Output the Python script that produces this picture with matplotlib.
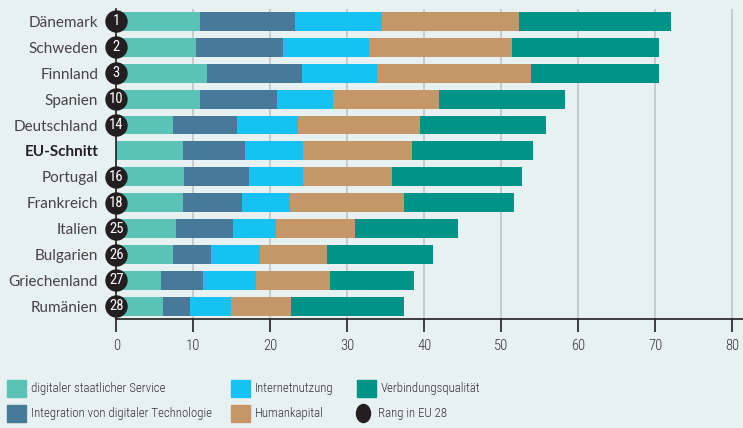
import matplotlib.pyplot as plt
import numpy as np
from matplotlib.patches import Rectangle, Ellipse

# Laender und Rang in EU 28 (EU-Schnitt ohne Rang)
laender = ['Dänemark', 'Schweden', 'Finnland', 'Spanien', 'Deutschland', 'EU-Schnitt',
           'Portugal', 'Frankreich', 'Italien', 'Bulgarien', 'Griechenland', 'Rumänien']
rang = [1, 2, 3, 10, 14, None, 16, 18, 25, 26, 27, 28]

# Teilwerte je Dimension
staatlicher_service = [10.9, 10.4, 11.8, 10.9, 7.4, 8.7, 8.8, 8.7, 7.8, 7.4, 5.8, 6.1]
integration_tech = [12.3, 11.3, 12.3, 10.0, 8.3, 8.0, 8.4, 7.6, 7.4, 4.9, 5.5, 3.5]
internetnutzung = [11.3, 11.1, 9.8, 7.3, 7.9, 7.6, 7.0, 6.3, 5.6, 6.4, 6.9, 5.3]
humankapital = [17.8, 18.6, 20.0, 13.7, 15.8, 14.1, 11.6, 14.8, 10.2, 8.7, 9.5, 7.8]
verbindung = [19.7, 19.1, 16.6, 16.4, 16.4, 15.7, 16.9, 14.3, 13.4, 13.7, 10.9, 14.7]

serien = [staatlicher_service, integration_tech, internetnutzung, humankapital, verbindung]
farben = ['#5BC3B6', '#477999', '#16C2F2', '#C59668', '#009489']
legende = ['digitaler staatlicher Service', 'Integration von digitaler Technologie',
           'Internetnutzung', 'Humankapital', 'Verbindungsqualität', 'Rang in EU 28']

bg = '#E8F1F2'
dunkel = '#231F20'
schmal = ['Roboto Condensed', 'Liberation Sans Narrow', 'DejaVu Sans']
plt.rcParams['font.family'] = ['Lato', 'DejaVu Sans']

W, H = 743, 428
fig = plt.figure(figsize=(W / 100, H / 100), dpi=100)
fig.patch.set_facecolor(bg)
ax = fig.add_axes([116.3 / W, 1 - 319.3 / H, (W - 116.3) / W, (319.3 - 9) / H])
ax.set_facecolor(bg)

y = np.arange(len(laender))
links = np.zeros(len(laender))
for werte, farbe in zip(serien, farben):
    ax.barh(y, werte, left=links, height=0.73, color=farbe, zorder=2)
    links += np.array(werte)

ax.set_xlim(0, (W - 116.3) / 7.7)
ax.set_ylim(11.5, -0.48)
ax.set_xticks(np.arange(0, 81, 10))
ax.xaxis.grid(True, color='#C3C9CB', lw=1.3, zorder=0)
ax.set_axisbelow(True)
for s in ['top', 'right']:
    ax.spines[s].set_visible(False)
ax.spines['bottom'].set_color(dunkel)
ax.spines['bottom'].set_linewidth(1.2)
ax.spines['left'].set_color(dunkel)
ax.spines['left'].set_linewidth(1.2)
ax.spines['left'].set_zorder(3)
ax.tick_params(axis='x', direction='out', length=9, width=1.2, color=dunkel,
               labelsize=10.5, labelcolor='#333333', pad=5)
for lab in ax.get_xticklabels():
    lab.set_family(schmal)
    lab.set_fontweight('light')
ax.set_yticks(y)
ax.set_yticklabels(laender, fontsize=11, color='#444444')
ax.tick_params(axis='y', length=0, pad=13)
for lab in ax.get_yticklabels():
    if lab.get_text() == 'EU-Schnitt':
        lab.set_fontweight('bold')
        lab.set_color('#222222')

# Rang-Kreise
for yi, r in zip(y, rang):
    if r is None:
        continue
    ax.scatter([0], [yi], s=260, color=dunkel, zorder=5, clip_on=False, linewidths=0)
    ax.text(0, yi, str(r), ha='center', va='center', color='white', fontsize=10.5,
            family=schmal, zorder=6)

# Legende
spalten_x = [7, 231, 357]
zeilen_y = [388.5, 413.5]
for i, text in enumerate(legende):
    sx = spalten_x[i // 2]
    sy = zeilen_y[i % 2]
    if i < 5:
        fig.patches.append(Rectangle((sx / W, 1 - (sy + 8.5) / H), 19 / W, 17 / H,
                                     transform=fig.transFigure, color=farben[i]))
        tx = sx + 24
    else:
        fig.patches.append(Ellipse(((sx + 6.5) / W, 1 - sy / H), 14 / W, 18 / H,
                                   transform=fig.transFigure, color=dunkel))
        tx = sx + 21
    fig.text(tx / W, 1 - sy / H, text, ha='left', va='center', fontsize=9.3,
             color='#333333', family=schmal, fontweight='light')

fig.savefig('out.png', dpi=100, facecolor=bg)
